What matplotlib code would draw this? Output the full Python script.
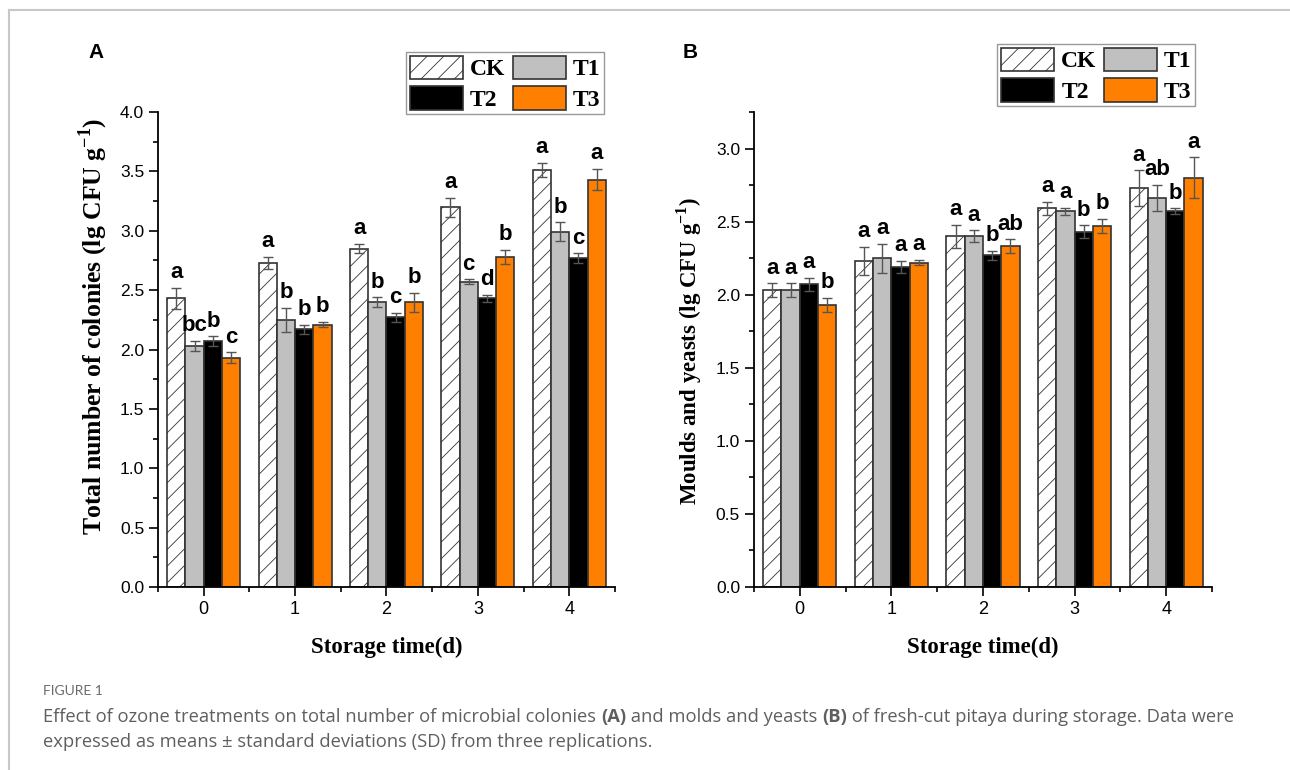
import matplotlib
matplotlib.use("Agg")
import matplotlib.pyplot as plt
from matplotlib.ticker import AutoMinorLocator, FixedLocator, MultipleLocator
from matplotlib.lines import Line2D
import numpy as np

# storage days and treatment groups
days = [0, 1, 2, 3, 4]
groups = ["CK", "T1", "T2", "T3"]

# total number of colonies (lg CFU/g), mean and SD
tnc_ck = [2.43, 2.73, 2.85, 3.20, 3.51]
tnc_t1 = [2.03, 2.25, 2.40, 2.57, 2.99]
tnc_t2 = [2.07, 2.17, 2.27, 2.43, 2.77]
tnc_t3 = [1.93, 2.21, 2.40, 2.78, 3.43]
tnc_ck_sd = [0.09, 0.05, 0.04, 0.08, 0.06]
tnc_t1_sd = [0.045, 0.10, 0.04, 0.02, 0.08]
tnc_t2_sd = [0.04, 0.04, 0.04, 0.03, 0.04]
tnc_t3_sd = [0.045, 0.02, 0.08, 0.06, 0.09]
tnc_sig_ck = ["a", "a", "a", "a", "a"]
tnc_sig_t1 = ["bc", "b", "b", "c", "b"]
tnc_sig_t2 = ["b", "b", "c", "d", "c"]
tnc_sig_t3 = ["c", "b", "b", "b", "a"]

# moulds and yeasts (lg CFU/g), mean and SD
my_ck = [2.03, 2.23, 2.40, 2.59, 2.73]
my_t1 = [2.03, 2.25, 2.40, 2.57, 2.66]
my_t2 = [2.07, 2.19, 2.27, 2.43, 2.57]
my_t3 = [1.93, 2.22, 2.33, 2.47, 2.80]
my_ck_sd = [0.047, 0.095, 0.08, 0.045, 0.12]
my_t1_sd = [0.047, 0.10, 0.04, 0.023, 0.09]
my_t2_sd = [0.043, 0.04, 0.03, 0.045, 0.02]
my_t3_sd = [0.047, 0.02, 0.048, 0.048, 0.14]
my_sig_ck = ["a", "a", "a", "a", "a"]
my_sig_t1 = ["a", "a", "a", "a", "ab"]
my_sig_t2 = ["a", "a", "b", "b", "b"]
my_sig_t3 = ["b", "a", "ab", "b", "a"]

# styles
FACE = ["white", "#c0c0c0", "black", "#ff8000"]
HATCH = ["//", None, None, None]
EDGE = "#333333"
BAR_W = 0.2

plt.rcParams["hatch.linewidth"] = 0.6
plt.rcParams["font.family"] = ["Liberation Sans", "DejaVu Sans"]
plt.rcParams["mathtext.fontset"] = "custom"
plt.rcParams["mathtext.rm"] = "Liberation Serif"
plt.rcParams["mathtext.bf"] = "Liberation Serif:bold"

SERIF_BOLD = dict(family=["Liberation Serif", "DejaVu Serif"], weight="bold")
NARROW = ["Liberation Sans Narrow", "Liberation Sans", "DejaVu Sans"]

fig = plt.figure(figsize=(12.9, 7.7), dpi=100)


def draw_panel(rect, means, sds, sigs, ymax, ylabel, ylabel_size, ylabel_pos,
               legend_corner):
    ax = fig.add_axes(rect)
    x = np.arange(len(days))
    bars = []
    for i in range(len(groups)):
        pos = x + (i - 1.5) * BAR_W
        b = ax.bar(pos, means[i], BAR_W, color=FACE[i], edgecolor=EDGE,
                   linewidth=1.2, hatch=HATCH[i], label=groups[i], zorder=2)
        ax.errorbar(pos, means[i], yerr=sds[i], fmt="none", ecolor="#555555",
                    elinewidth=1.0, capsize=3.5, capthick=1.0, zorder=3)
        for xp, m, s, lab in zip(pos, means[i], sds[i], sigs[i]):
            ax.annotate(lab, (xp, m + s), xytext=(0, 7), textcoords="offset points",
                        ha="center", va="baseline", fontsize=16, fontweight="bold",
                        family=["Liberation Sans", "DejaVu Sans"])
        bars.append(b)

    ax.set_xlim(-0.5, 4.5)
    ax.set_ylim(0, ymax)
    ax.set_xticks(x)
    ax.set_xticklabels([str(d) for d in days], family=NARROW, fontsize=13)
    ax.xaxis.set_minor_locator(FixedLocator(np.arange(-0.5, 5, 1)))
    ax.yaxis.set_major_locator(MultipleLocator(0.5))
    ax.yaxis.set_minor_locator(AutoMinorLocator(2))
    ax.yaxis.set_major_formatter(plt.FormatStrFormatter("%.1f"))
    ax.tick_params(axis="y", labelsize=12.5)
    ax.tick_params(which="major", direction="out", length=6.5, width=1.2)
    ax.tick_params(which="minor", direction="out", length=3.5, width=1.2)
    for side in ["top", "right"]:
        ax.spines[side].set_visible(False)
    for side in ["left", "bottom"]:
        ax.spines[side].set_linewidth(1.3)

    ax.set_xlabel("Storage time(d)", fontsize=16.5, labelpad=14, **SERIF_BOLD)
    ax.set_ylabel(ylabel, fontsize=ylabel_size, **SERIF_BOLD)
    ax.yaxis.set_label_coords(*ylabel_pos)

    # two-column legend: CK T1 / T2 T3
    order = [0, 2, 1, 3]
    leg = ax.legend([bars[k] for k in order], [groups[k] for k in order],
                    ncol=2, loc="upper right", bbox_to_anchor=legend_corner,
                    bbox_transform=fig.transFigure, frameon=True, fancybox=False,
                    edgecolor="#808080", borderaxespad=0, borderpad=0.15,
                    handlelength=2.25, handleheight=1.15, handletextpad=0.3,
                    columnspacing=0.3, labelspacing=0.25,
                    prop=dict(family=["Liberation Serif"], weight="bold", size=17))
    leg.get_frame().set_linewidth(1.0)
    return ax


ax_a = draw_panel([0.1225, 0.2377, 0.3542, 0.6168],
                  [tnc_ck, tnc_t1, tnc_t2, tnc_t3],
                  [tnc_ck_sd, tnc_t1_sd, tnc_t2_sd, tnc_t3_sd],
                  [tnc_sig_ck, tnc_sig_t1, tnc_sig_t2, tnc_sig_t3],
                  4.0, r"Total number of colonies (lg CFU g$^{\mathbf{-1}}$)",
                  18.5, (-0.105, 0.548), (0.4682, 0.9325))
ax_b = draw_panel([0.5845, 0.2377, 0.3550, 0.6168],
                  [my_ck, my_t1, my_t2, my_t3],
                  [my_ck_sd, my_t1_sd, my_t2_sd, my_t3_sd],
                  [my_sig_ck, my_sig_t1, my_sig_t2, my_sig_t3],
                  3.25, r"Moulds and yeasts (lg CFU g$^{\mathbf{-1}}$)",
                  16.5, (-0.11, 0.496), (0.9264, 0.9429))

# panel letters
fig.text(88 / 1290, 1 - 58 / 770, "A", fontsize=15, fontweight="bold")
fig.text(683 / 1290, 1 - 58 / 770, "B", fontsize=15, fontweight="bold")

# page frame lines
fig.add_artist(Line2D([9 / 1290, 1], [1 - 10 / 770, 1 - 10 / 770],
                      color="#c8c8c8", linewidth=1.5))
fig.add_artist(Line2D([9 / 1290, 9 / 1290], [0, 1 - 10 / 770],
                      color="#c8c8c8", linewidth=1.5))

# caption
CAP = dict(family=["Open Sans", "DejaVu Sans"], color="#5f5f5f", fontsize=13.2)
fig.text(43 / 1290, 1 - 695 / 770, "FIGURE 1", family=["Lato", "DejaVu Sans"],
         color="#6b6b6b", fontsize=10, va="baseline")

pieces = [
    ("Effect of ozone treatments on total number of microbial colonies ", "normal"),
    ("(A)", "bold"),
    (" and molds and yeasts ", "normal"),
    ("(B)", "bold"),
    (" of fresh-cut pitaya during storage. Data were", "normal"),
]
# first line is chained piece by piece so the bold parts follow on
prev = fig.text(43 / 1290, 1 - 722 / 770, pieces[0][0], va="baseline",
                fontweight=pieces[0][1], **CAP)
for txt, wt in pieces[1:]:
    prev = ax_a.annotate(txt, xy=(1, 0), xycoords=prev, va="bottom", ha="left",
                         fontweight=wt, annotation_clip=False, **CAP)
fig.text(43 / 1290, 1 - 747 / 770,
         "expressed as means \u00b1 standard deviations (SD) from three replications.",
         va="baseline", **CAP)

fig.savefig("out.png", dpi=100)
